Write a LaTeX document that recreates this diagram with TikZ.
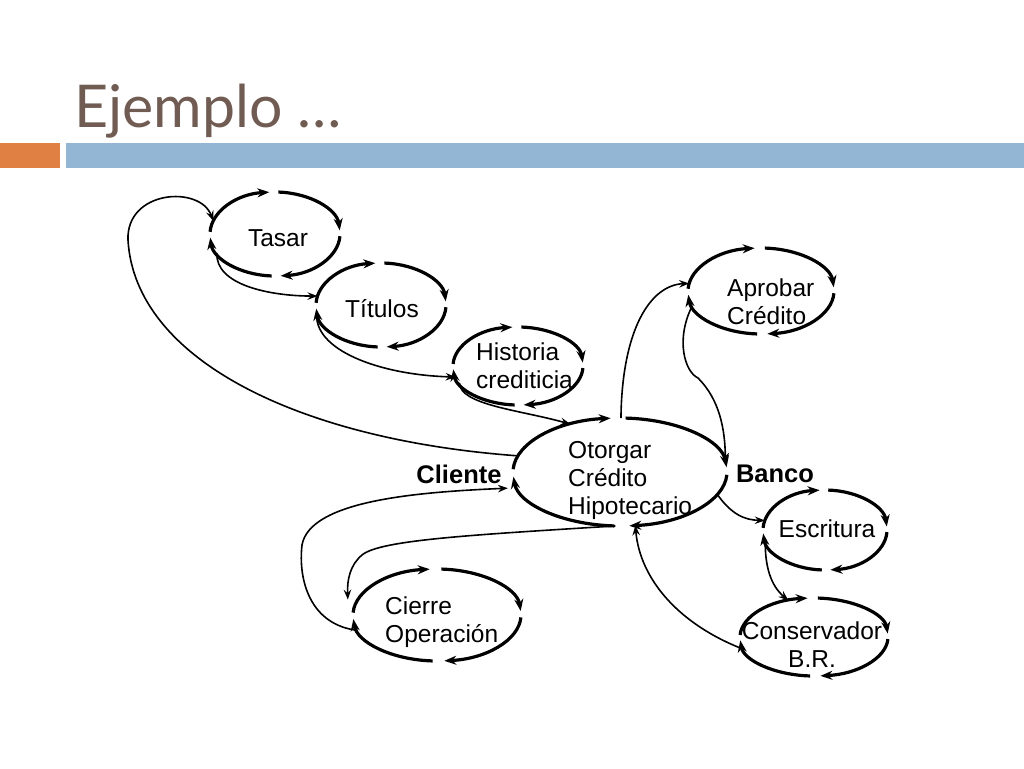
\documentclass[tikz,border=0pt]{standalone}
\usepackage{fontspec}
\setmainfont{Liberation Sans}
\newfontfamily\titlefont{Lato}
\usetikzlibrary{arrows.meta,shapes.geometric}
\definecolor{titlec}{RGB}{112,92,82}
\definecolor{orangebar}{RGB}{224,128,66}
\definecolor{bluebar}{RGB}{147,182,212}
\tikzset{
 wf/.style={ellipse, draw=none, inner sep=0pt, outer sep=0pt},
 arcar/.style={line width=3.2pt, -{Stealth[length=12pt,width=9pt,inset=4pt]}},
 conn/.style={line width=1.6pt, -{Stealth[length=10pt,width=7.5pt,inset=3.5pt]}},
 lbl/.style={font=\fontsize{24.5}{28}\selectfont, inner sep=0pt},
 blbl/.style={font=\fontsize{25.5}{30}\selectfont\bfseries, inner sep=0pt},
}
\newcommand\wfloop[3]{\foreach \a in {180,270,360,450}{\draw[arcar] ([shift={({\a+3}:#2 and #3)}]#1.center) arc[start angle=\a+3, end angle=\a+85, x radius=#2, y radius=#3];}}
\begin{document}
\begin{tikzpicture}[x=1pt,y=-1pt]
\useasboundingbox (0,0) rectangle (1024,768);
% title and bars
\node[anchor=base west, inner sep=0pt, text=titlec, font=\titlefont\fontsize{59}{64}\selectfont] (title) at (74,127) {Ejemplo {\addfontfeature{LetterSpace=25}…}};
\fill[orangebar] (0,143) rectangle (60,168);
\fill[bluebar] (66,143) rectangle (1024,168);
% workflow ellipses (invisible nodes)
\node[wf, minimum width=130pt, minimum height=84pt] (tasar) at (275,234) {};
\node[wf, minimum width=130pt, minimum height=84pt] (titulos) at (381,305) {};
\node[wf, minimum width=130pt, minimum height=78pt] (hist) at (518,366) {};
\node[wf, minimum width=214pt, minimum height=108pt] (oto) at (620,472) {};
\node[wf, minimum width=146pt, minimum height=86pt] (apro) at (761,291) {};
\node[wf, minimum width=124pt, minimum height=80pt] (escr) at (825,530) {};
\node[wf, minimum width=148pt, minimum height=78pt] (cons) at (814,637) {};
\node[wf, minimum width=168pt, minimum height=92pt] (cierre) at (437,615) {};
\wfloop{tasar}{65}{42}
\wfloop{titulos}{65}{42}
\wfloop{hist}{65}{39}
\wfloop{oto}{107}{54}
\wfloop{apro}{73}{43}
\wfloop{escr}{62}{40}
\wfloop{cons}{74}{39}
\wfloop{cierre}{84}{46}
% labels
\node[lbl] (tTasar) at (278,238) {Tasar};
\node[lbl] (tTitulos) at (382,309) {Títulos};
\node[lbl, anchor=west, align=left] (tHist) at (476,366) {Historia\\crediticia};
\node[lbl, anchor=west, align=left] (tOto) at (568,480) {Otorgar\\Crédito\\Hipotecario};
\node[lbl, anchor=west, align=left] (tApro) at (727,302) {Aprobar\\Crédito};
\node[lbl] (tEscr) at (827,529) {Escritura};
\node[lbl, align=center] (tCons) at (812,645) {Conservador\\B.R.};
\node[lbl, anchor=west, align=left] (tCierre) at (385,622) {Cierre\\Operación};
\node[blbl] (cliente) at (459,474) {Cliente};
\node[blbl] (banco) at (775,474) {Banco};
% connectors
\draw[conn] (oto.171) .. controls (300,440) and (135,360) .. (128,240) .. controls (126,190) and (200,185) .. (tasar.168);
\draw[conn] (tasar.198) .. controls (215,285) and (270,296) .. (titulos.172);
\draw[conn] (titulos.186) .. controls (312,350) and (380,375) .. (hist.190);
\draw[conn] (hist.196) .. controls (460,405) and (520,410) .. (oto.136);
\draw[conn] (oto.89) .. controls (622,330) and (650,285) .. (apro.174);
\draw[conn] (apro.192) .. controls (675,340) and (685,372) .. (698,378) .. controls (720,400) and (725,430) .. (oto.5);
\draw[conn] (oto.347) .. controls (732,515) and (745,520) .. (escr.171);
\draw[conn] (escr.190) .. controls (765,565) and (770,585) .. (cons.125);
\draw[conn] (cons.190) .. controls (680,625) and (640,580) .. (oto.286);
\draw[conn] (oto.265) .. controls (470,535) and (380,540) .. (362,555) .. controls (350,565) and (347,580) .. ([xshift=-10pt]cierre.169);
\draw[conn] (cierre.191) .. controls (310,625) and (298,580) .. (302,545) .. controls (310,500) and (420,492) .. ([xshift=-10pt]oto.189);
\end{tikzpicture}
\end{document}
